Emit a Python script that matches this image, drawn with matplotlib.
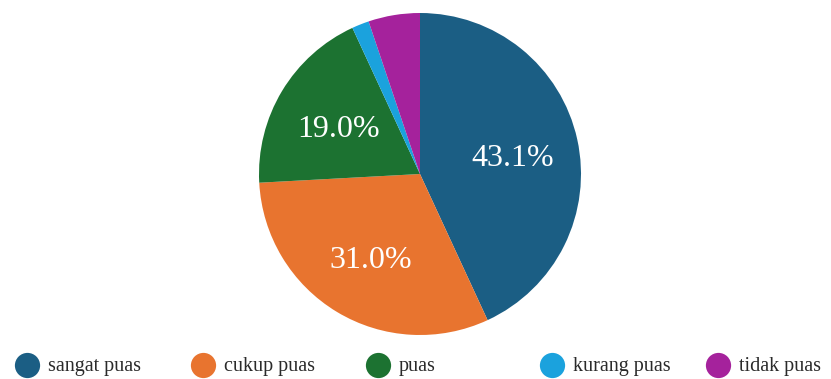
import matplotlib
matplotlib.use("Agg")
import matplotlib.pyplot as plt

categories = ["sangat puas", "cukup puas", "puas", "kurang puas", "tidak puas"]
counts = [25, 18, 11, 1, 3]
colors = ["#1b5e84", "#e8742f", "#1c7231", "#1ba2dd", "#a5229c"]

W, H = 831, 379
fig = plt.figure(figsize=(W / 100, H / 100), dpi=100)
fig.patch.set_facecolor("white")

cx, cy, r = 420, 174, 161
ax = fig.add_axes([(cx - r) / W, (H - cy - r) / H, 2 * r / W, 2 * r / H])

def fmt(p):
    return f"{p:.1f}%" if p >= 10 else ""

wedges, texts, autotexts = ax.pie(
    counts, colors=colors, startangle=90, counterclock=False,
    autopct=fmt, pctdistance=0.59, radius=1,
    wedgeprops=dict(linewidth=0),
    textprops=dict(color="white", fontsize=23, family="Liberation Serif"),
)
for t in autotexts:
    x, y = t.get_position()
    t.set_position((x, y - 0.03))
ax.set_xlim(-1, 1)
ax.set_ylim(-1, 1)
ax.set_aspect("equal")
ax.axis("off")

# legend
leg_x = [27, 203, 378, 552, 718]
leg_y = 365
lax = fig.add_axes([0, 0, 1, 1], facecolor="none")
lax.set_xlim(0, W)
lax.set_ylim(H, 0)
lax.axis("off")
for x, c, lab in zip(leg_x, colors, categories):
    lax.scatter([x], [leg_y], s=330, color=c, marker="o", linewidths=0)
    lax.text(x + 21, leg_y + 2, lab, va="center", ha="left", fontsize=14.5,
             family="Liberation Serif", color="#2a2a2a")

fig.savefig("out.png", dpi=100)
